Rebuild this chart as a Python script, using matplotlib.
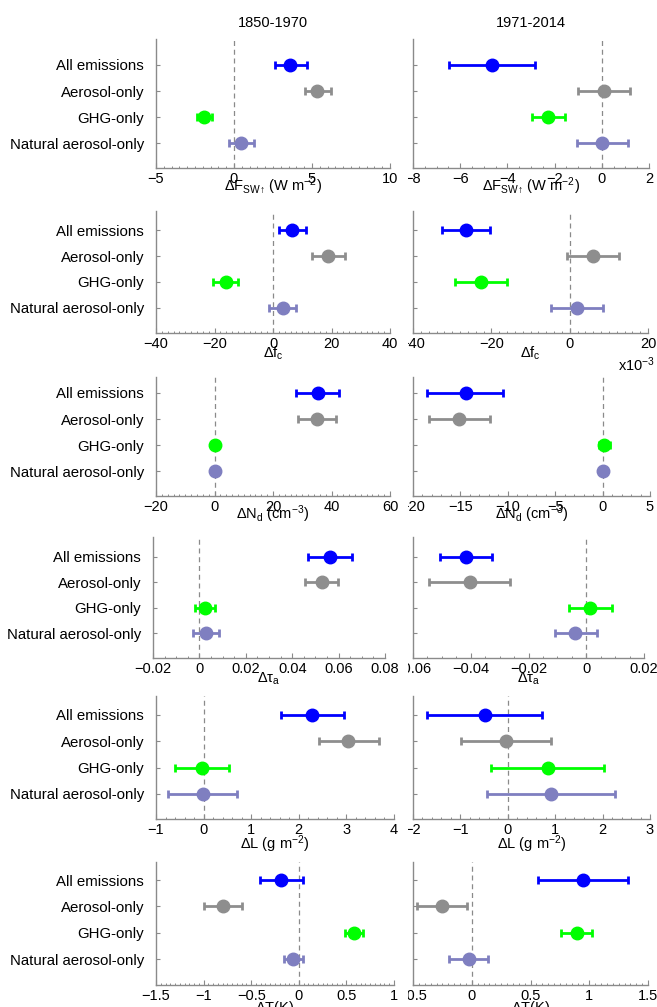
import matplotlib
matplotlib.use("Agg")
import matplotlib.pyplot as plt
from matplotlib.ticker import MultipleLocator, FuncFormatter
from matplotlib.transforms import Bbox, TransformedBbox

plt.rcParams['font.family'] = ['Liberation Sans', 'DejaVu Sans']
plt.rcParams['mathtext.default'] = 'regular'
plt.rcParams['axes.unicode_minus'] = True

# ---------------- data ----------------
categories = ['All emissions', 'Aerosol-only', 'GHG-only', 'Natural aerosol-only']
colors = ['#0000ff', '#8e8e8e', '#00ff00', '#7f7fc0']
period_titles = ['1850-1970', '1971-2014']

xlabels = [r'$\Delta F_{SW↑}$ (W m$^{-2}$)', r'$\Delta f_c$', r'$\Delta N_d$ (cm$^{-3}$)',
           r'$\Delta τ_a$', r'$\Delta L$ (g m$^{-2}$)', r'$\Delta T (K)$']

# ΔF_SW↑ (W m-2)
sw_e_mean = [3.62, 5.32, -1.91, 0.48]
sw_e_lo = [2.60, 4.52, -2.37, -0.32]
sw_e_hi = [4.65, 6.20, -1.38, 1.28]
sw_l_mean = [-4.65, 0.09, -2.27, 0.0]
sw_l_lo = [-6.48, -1.00, -2.96, -1.03]
sw_l_hi = [-2.84, 1.20, -1.56, 1.10]

# Δf_c (right column in units of 1e-3)
fc_e_mean = [6.6, 18.9, -16.2, 3.3]
fc_e_lo = [1.9, 13.2, -20.4, -1.4]
fc_e_hi = [11.3, 24.7, -12.0, 7.9]
fc_l_mean = [-26.5, 5.9, -22.7, 1.9]
fc_l_lo = [-32.5, -0.6, -29.3, -4.8]
fc_l_hi = [-20.4, 12.5, -16.1, 8.6]

# ΔN_d (cm-3)
nd_e_mean = [35.3, 35.1, 0.3, 0.0]
nd_e_lo = [27.7, 28.4, -0.4, -0.5]
nd_e_hi = [42.5, 41.7, 1.0, 0.5]
nd_l_mean = [-14.4, -15.1, 0.1, 0.0]
nd_l_lo = [-18.5, -18.3, -0.35, -0.3]
nd_l_hi = [-10.5, -11.9, 0.8, 0.3]

# Δτ_a
ta_e_mean = [0.0565, 0.0527, 0.0024, 0.0029]
ta_e_lo = [0.0469, 0.0457, -0.0020, -0.0027]
ta_e_hi = [0.0659, 0.0596, 0.0067, 0.0085]
ta_l_mean = [-0.0417, -0.0404, 0.0012, -0.0038]
ta_l_lo = [-0.0508, -0.0544, -0.0061, -0.0109]
ta_l_hi = [-0.0325, -0.0264, 0.0090, 0.0036]

# ΔL (g m-2)
lw_e_mean = [2.28, 3.04, -0.03, -0.01]
lw_e_lo = [1.63, 2.42, -0.60, -0.74]
lw_e_hi = [2.95, 3.69, 0.54, 0.71]
lw_l_mean = [-0.49, -0.04, 0.84, 0.91]
lw_l_lo = [-1.71, -0.99, -0.36, -0.44]
lw_l_hi = [0.72, 0.92, 2.03, 2.27]

# ΔT (K)
dt_e_mean = [-0.185, -0.80, 0.578, -0.057]
dt_e_lo = [-0.41, -1.00, 0.485, -0.154]
dt_e_hi = [0.044, -0.60, 0.67, 0.04]
dt_l_mean = [0.948, -0.257, 0.895, -0.025]
dt_l_lo = [0.563, -0.47, 0.76, -0.19]
dt_l_hi = [1.33, -0.043, 1.027, 0.135]

left_data = [(sw_e_mean, sw_e_lo, sw_e_hi), (fc_e_mean, fc_e_lo, fc_e_hi),
             (nd_e_mean, nd_e_lo, nd_e_hi), (ta_e_mean, ta_e_lo, ta_e_hi),
             (lw_e_mean, lw_e_lo, lw_e_hi), (dt_e_mean, dt_e_lo, dt_e_hi)]
right_data = [(sw_l_mean, sw_l_lo, sw_l_hi), (fc_l_mean, fc_l_lo, fc_l_hi),
              (nd_l_mean, nd_l_lo, nd_l_hi), (ta_l_mean, ta_l_lo, ta_l_hi),
              (lw_l_mean, lw_l_lo, lw_l_hi), (dt_l_mean, dt_l_lo, dt_l_hi)]

left_xlim = [(-5, 10), (-40, 40), (-20, 60), (-0.02, 0.08), (-1, 4), (-1.5, 1)]
left_major = [5, 20, 20, 0.02, 1, 0.5]
left_minor = [0.5, 2, 2, 0.005, 0.2, 0.05]
right_xlim = [(-8, 2), (-40, 20), (-20, 5), (-0.06, 0.02), (-2, 3), (-0.5, 1.5)]
right_major = [2, 20, 5, 0.02, 1, 0.5]
right_minor = [0.5, 2, 1, 0.005, 0.2, 0.05]

# ---------------- layout (pixels) ----------------
W, H = 657, 1007
left_x = [(156, 390), (156, 390), (156, 390), (153, 385), (156, 394), (156, 394)]
right_x = [(413, 649), (413, 648), (413, 650), (413, 644), (413, 650), (413, 648)]
tops = [39, 211, 377, 537, 696, 862]
bottoms = [168, 333, 496, 658, 819, 985]
row1 = [65, 230, 393, 557, 715, 880]
row4 = [143, 308, 471, 633, 794, 959]
label_off = [23, 25, 23, 25, 30, 27]

SPINE = '#8a8a8a'

fig = plt.figure(figsize=(W / 100, H / 100), dpi=100)


def fmt(v, pos):
    v = round(v, 6)
    if abs(v) < 1e-12:
        v = 0.0
    s = f'{v:g}'
    return s.replace('-', '\u2212')


CLIP_X = 408
right_axes = []

for i in range(6):
    ppu = (row4[i] - row1[i]) / 3.0
    ytop = 1 - (row1[i] - tops[i]) / ppu
    ybot = 4 + (bottoms[i] - row4[i]) / ppu
    for col in range(2):
        xl, xr = (left_x if col == 0 else right_x)[i]
        ax = fig.add_axes([xl / W, 1 - bottoms[i] / H, (xr - xl) / W, (bottoms[i] - tops[i]) / H])
        mean, lo, hi = (left_data if col == 0 else right_data)[i]
        xlim = (left_xlim if col == 0 else right_xlim)[i]
        major = (left_major if col == 0 else right_major)[i]
        minor = (left_minor if col == 0 else right_minor)[i]

        ax.axvline(0, color='#8a8a8a', lw=0.9, ls=(0, (4, 3)), zorder=1)
        for k in range(4):
            ax.errorbar([mean[k]], [k + 1],
                        xerr=[[mean[k] - lo[k]], [hi[k] - mean[k]]],
                        fmt='o', color=colors[k], ms=9, mec=colors[k],
                        elinewidth=2.0, capsize=2.6, capthick=2.0, zorder=3)
        ax.set_xlim(*xlim)
        ax.set_ylim(ybot, ytop)
        ax.xaxis.set_major_locator(MultipleLocator(major))
        ax.xaxis.set_minor_locator(MultipleLocator(minor))
        ax.xaxis.set_major_formatter(FuncFormatter(fmt))
        ax.set_yticks([1, 2, 3, 4])
        if col == 0:
            ax.set_yticklabels(categories, fontsize=10.8)
        else:
            ax.set_yticklabels([])
        for s in ['top', 'right']:
            ax.spines[s].set_visible(False)
        for s in ['left', 'bottom']:
            ax.spines[s].set_color(SPINE)
            ax.spines[s].set_linewidth(1.0)
        ax.tick_params(axis='x', which='major', direction='in', length=3.5, width=0.8,
                       color=SPINE, labelsize=10.5, pad=3)
        ax.tick_params(axis='x', which='minor', direction='in', length=1.8, width=0.7, color=SPINE)
        ax.tick_params(axis='y', which='major', direction='in', length=3, width=0.8,
                       color=SPINE, pad=8.5)
        ax.set_facecolor('none')

        xc = (xl + xr) / 2 / W
        fig.text(xc, 1 - (bottoms[i] + label_off[i]) / H, xlabels[i], ha='center',
                 va='baseline', fontsize=10.5)
        if i == 0:
            fig.text(xc, 1 - 27 / H, period_titles[col], ha='center', va='baseline', fontsize=10.5)
        if col == 1:
            right_axes.append(ax)

fig.text(655 / W, 1 - 371 / H, r'x10$^{-3}$', ha='right', va='baseline', fontsize=10.5)

# the right column is cut off at its left edge: hide what lies left of CLIP_X
clip_bbox = TransformedBbox(Bbox([[CLIP_X / W, 0.0], [1.0, 1.0]]), fig.transFigure)
fig.canvas.draw()
for ax in right_axes:
    for tick in ax.xaxis.get_major_ticks():
        tick.label1.set_clip_box(clip_bbox)
        tick.label1.set_clip_on(True)

fig.savefig('out.png', dpi=100)
